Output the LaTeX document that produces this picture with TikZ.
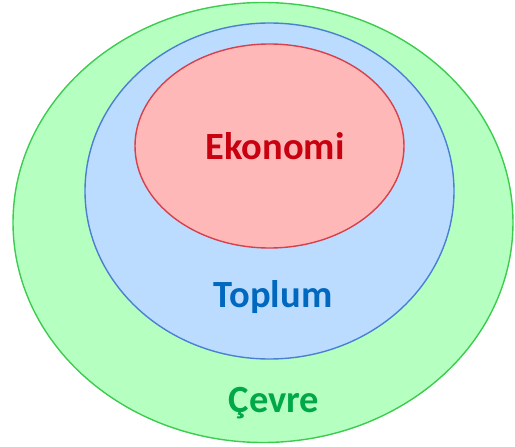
\documentclass[tikz,border=0pt]{standalone}
\usepackage{fontspec}
\setmainfont{Carlito}
\definecolor{greenfill}{HTML}{B5FFC0}
\definecolor{greenline}{HTML}{3DCC4F}
\definecolor{greentext}{HTML}{00A848}
\definecolor{bluefill}{HTML}{BBDCFF}
\definecolor{blueline}{HTML}{4A80D2}
\definecolor{bluetext}{HTML}{0068BE}
\definecolor{redfill}{HTML}{FFB8B8}
\definecolor{redline}{HTML}{D8404A}
\definecolor{redtext}{HTML}{C80010}
\tikzset{
  ring/.style={line width=1.4pt},
  lbl/.style={font=\fontsize{38.5}{42}\selectfont\bfseries, inner sep=0pt, anchor=base}
}
\begin{document}
\begin{tikzpicture}[x=1pt,y=-1pt]
  \useasboundingbox (0,0) rectangle (515,447);
  % nested spheres: environment, society, economy
  \draw[ring, fill=greenfill, draw=greenline] (263,222.5) ellipse [x radius=250, y radius=220];
  \draw[ring, fill=bluefill, draw=blueline] (269.5,191) ellipse [x radius=184.5, y radius=168];
  \draw[ring, fill=redfill, draw=redline] (269.5,146) ellipse [x radius=134.5, y radius=102];
  \node[lbl, text=redtext] (eko) at (275,159) {Ekonomi};
  \node[lbl, text=bluetext] (top) at (273,307) {Toplum};
  \node[lbl, text=greentext] (cev) at (274,412) {Çevre};
\end{tikzpicture}
\end{document}
